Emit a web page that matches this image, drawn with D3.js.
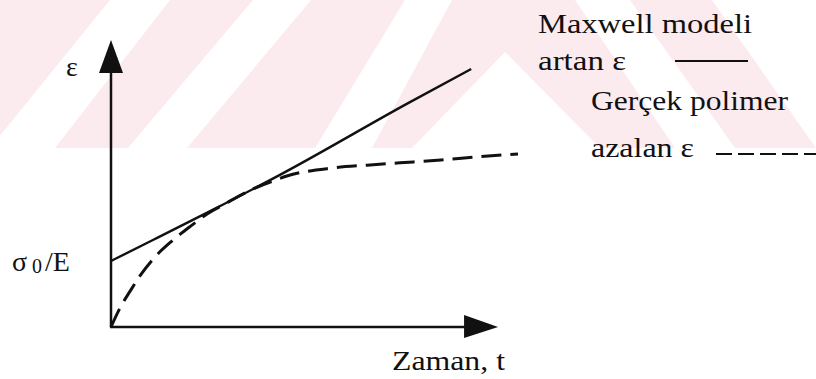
<html>
<head>
  <meta charset="utf-8" />
  <script src="https://cdnjs.cloudflare.com/ajax/libs/d3/7.8.5/d3.min.js"></script>
  <style>
    body { margin: 0; background: #fff; }
  </style>
</head>
<body>
  <svg></svg>
  <script>
    // Maxwell model: strain rises linearly after the instant jump sigma0/E
    var maxwellTime   = [0, 1.03, 2.51, 4.15, 7.30, 8.85];
    var maxwellStrain = [2.30, 3.03, 4.09, 5.30, 7.80, 8.99];

    // real polymer: strain rate decreases with time
    var polymerTime   = [0, 0.22, 0.47, 0.71, 1.08, 1.50, 1.99, 2.36, 2.75, 3.49, 3.91, 4.32, 5.45, 6.29, 7.10, 8.11, 8.94, 10.0];
    var polymerStrain = [0, 0.66, 1.25, 1.78, 2.44, 3.00, 3.55, 3.94, 4.25, 4.81, 5.05, 5.26, 5.54, 5.64, 5.72, 5.82, 5.92, 6.03];

    var axisEnds = [9.51, 10];  // arrow tips (time, strain)
    var legendNames = ["Maxwell modeli", "artan ε", "Gerçek polimer", "azalan ε"];
    var xAxisTitle = "Zaman, t";
    var yAxisTitle = "ε";

    var serif = "'Liberation Serif', 'DejaVu Serif', serif";

    var svg = d3.select("svg").attr("width", 816).attr("height", 379);

    // watermark band in the background (light pink stripes)
    var band = svg.append("g");
    band.append("rect").attr("x", 0).attr("y", 0).attr("width", 816).attr("height", 148)
      .attr("fill", "#fcebee");
    var holes = [
      [[110,0],[170,0],[55,148],[-10,148]],
      [[253,0],[311,0],[187,148],[128,148]],
      [[405,0],[452,0],[372,148],[315,148]],
      [[505,52],[600,148],[412,148]],
      [[575,0],[630,0],[735,148],[675,148]],
      [[712,0],[816,0],[816,148]]
    ];
    band.selectAll("polygon").data(holes).enter().append("polygon")
      .attr("points", d => d.map(p => p.join(",")).join(" "))
      .attr("fill", "#fff");

    var xScale = d3.scaleLinear().domain([0, 10]).range([111, 518]);
    var yScale = d3.scaleLinear().domain([0, 10]).range([327, 40]);

    // axes with filled arrow heads
    var x0 = xScale(0), y0 = yScale(0);
    var xTip = xScale(axisEnds[0]), yTip = yScale(axisEnds[1]);
    svg.append("line").attr("x1", x0).attr("y1", y0).attr("x2", x0).attr("y2", yTip + 30)
      .attr("stroke", "#111").attr("stroke-width", 2.5);
    svg.append("line").attr("x1", x0 - 1).attr("y1", y0).attr("x2", xTip - 30).attr("y2", y0)
      .attr("stroke", "#111").attr("stroke-width", 2.5);
    svg.append("path").attr("d", `M${x0},${yTip} L${x0 + 12},${yTip + 33} L${x0 - 12},${yTip + 33} Z`)
      .attr("fill", "#111");
    svg.append("path").attr("d", `M${xTip},${y0} L${xTip - 34},${y0 - 12} L${xTip - 34},${y0 + 11} Z`)
      .attr("fill", "#111");

    var line = d3.line()
      .x(d => xScale(d[0]))
      .y(d => yScale(d[1]))
      .curve(d3.curveMonotoneX);

    svg.append("path")
      .attr("d", line(d3.zip(maxwellTime, maxwellStrain)))
      .attr("fill", "none").attr("stroke", "#111").attr("stroke-width", 2.4);

    svg.append("path")
      .attr("d", line(d3.zip(polymerTime, polymerStrain)))
      .attr("fill", "none").attr("stroke", "#111").attr("stroke-width", 3)
      .attr("stroke-dasharray", "20,9");

    function label(x, y, str, width) {
      var t = svg.append("text").attr("x", x).attr("y", y).attr("font-size", 28)
        .attr("font-family", serif).attr("fill", "#111").text(str);
      if (width) t.attr("textLength", width).attr("lengthAdjust", "spacingAndGlyphs");
      return t;
    }

    // axis titles
    label(66, 76, yAxisTitle);
    label(392, 370, xAxisTitle, 113);

    var s0 = label(12, 271, "");
    s0.append("tspan").text("σ");
    s0.append("tspan").attr("font-size", 20).attr("dx", 5).attr("dy", 2).text("0");
    s0.append("tspan").attr("dx", 3).attr("dy", -2).text("/E");

    // legend
    var legendRows = [[538, 33, 214], [538, 70, 88], [591, 110, 197], [591, 157, 103]];
    legendNames.forEach((d, i) => label(legendRows[i][0], legendRows[i][1], d, legendRows[i][2]));
    svg.append("line").attr("x1", 675).attr("y1", 61).attr("x2", 748).attr("y2", 61)
      .attr("stroke", "#111").attr("stroke-width", 2);
    svg.append("line").attr("x1", 716).attr("y1", 154).attr("x2", 816).attr("y2", 154)
      .attr("stroke", "#111").attr("stroke-width", 2).attr("stroke-dasharray", "16,6");
  </script>
</body>
</html>
